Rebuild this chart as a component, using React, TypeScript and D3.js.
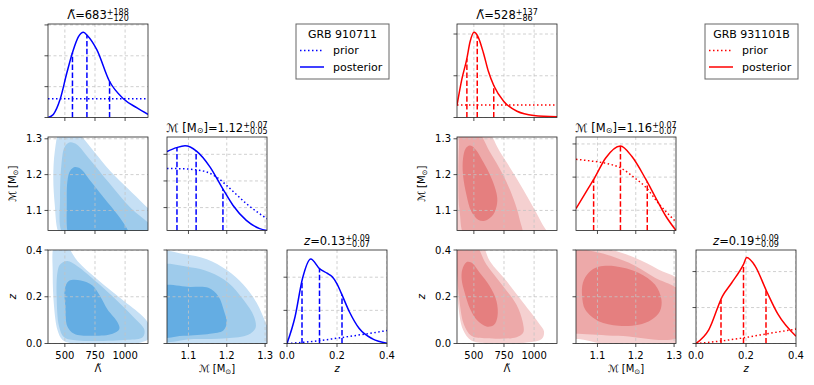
import React from 'react';
import * as d3 from 'd3';

type P = [number, number];

// axis limits and ticks shared by both corner plots
const lamLim: P = [360, 1190];
const mcLim: P = [1.044, 1.305];
const zLim: P = [0, 0.4];
const lamTicks = [500, 750, 1000];
const mcTicks = [1.1, 1.2, 1.3];
const zTicks = [0, 0.2, 0.4];

// ---------- GRB 910711 (blue) ----------
const lamPostA: P[] = [[360, 0], [404, 0.1], [460, 0.58], [516, 1.44], [566, 2.14], [613, 2.62], [654, 2.76], [688, 2.65], [766, 2.19], [868, 1.19], [988, 0.6], [1099, 0.31], [1190, 0.1]];
const lamPriorA: P[] = [[360, 0.61], [1190, 0.61]];
const mcPostA: P[] = [[1.044, 3.1], [1.069, 3.25], [1.091, 3.32], [1.121, 3.12], [1.156, 2.53], [1.189, 1.72], [1.216, 1.09], [1.251, 0.52], [1.286, 0.21], [1.305, 0.14]];
const mcPriorA: P[] = [[1.044, 2.47], [1.08, 2.46], [1.112, 2.43], [1.147, 2.34], [1.173, 2.15], [1.208, 1.72], [1.251, 1.15], [1.305, 0.58]];
const zPostA: P[] = [[0, 0], [0.032, 0.8], [0.062, 1.96], [0.095, 2.55], [0.131, 2.25], [0.16, 2.12], [0.18, 2.02], [0.2, 1.8], [0.217, 1.52], [0.25, 0.95], [0.289, 0.45], [0.342, 0.14], [0.4, 0.01]];
const zPriorA: P[] = [[0, 0], [0.1, 0.06], [0.2, 0.16], [0.3, 0.27], [0.4, 0.39]];
const lamQA = [563, 683, 871];
const mcQA = [1.07, 1.12, 1.19];
const zQA = [0.06, 0.13, 0.22];

const lamMcA: P[][] = [
  [[443, 1.042], [416, 1.116], [404, 1.19], [416, 1.264], [452, 1.319], [521, 1.338], [604, 1.319], [743, 1.264], [882, 1.208], [1021, 1.162], [1160, 1.116], [1271, 1.079], [1327, 1.023], [882, 1.0], [493, 1.015]],
  [[471, 1.042], [460, 1.134], [471, 1.227], [499, 1.278], [543, 1.29], [599, 1.284], [688, 1.25], [882, 1.171], [1049, 1.106], [1193, 1.065], [1271, 1.032], [882, 1.005], [549, 1.015]],
  [[521, 1.042], [516, 1.116], [521, 1.181], [543, 1.21], [582, 1.221], [632, 1.216], [716, 1.181], [827, 1.134], [938, 1.088], [1021, 1.046], [1049, 1.023], [743, 1.005], [549, 1.015]],
];
const lamZA: P[][] = [
  [[410, 0.417], [399, 0.303], [410, 0.159], [438, 0.059], [479, 0.016], [549, 0.0014], [882, -0.0014], [1132, 0.004], [1202, 0.023], [1216, 0.059], [1160, 0.109], [993, 0.181], [771, 0.274], [604, 0.353], [521, 0.417], [466, 0.439]],
  [[438, 0.303], [460, 0.338], [521, 0.353], [604, 0.331], [771, 0.26], [938, 0.181], [1077, 0.109], [1160, 0.059], [1146, 0.027], [1021, 0.016], [604, 0.013], [493, 0.027], [452, 0.073], [432, 0.202]],
  [[499, 0.231], [535, 0.268], [632, 0.27], [729, 0.248], [793, 0.202], [854, 0.145], [938, 0.09], [952, 0.062], [896, 0.042], [743, 0.033], [577, 0.042], [521, 0.073], [504, 0.159]],
];
const mcZA: P[][] = [
  [[1.018, 0.389], [1.087, 0.383], [1.148, 0.36], [1.2, 0.314], [1.243, 0.252], [1.278, 0.174], [1.302, 0.087], [1.321, 0.016], [1.286, -0.013], [1.156, -0.007], [1.018, -0.007]],
  [[1.018, 0.328], [1.104, 0.326], [1.156, 0.305], [1.204, 0.26], [1.243, 0.188], [1.271, 0.116], [1.275, 0.066], [1.256, 0.037], [1.2, 0.022], [1.113, 0.019], [1.018, 0.019]],
  [[1.018, 0.238], [1.104, 0.242], [1.152, 0.238], [1.178, 0.202], [1.193, 0.138], [1.2, 0.09], [1.191, 0.056], [1.156, 0.042], [1.087, 0.033], [1.018, 0.033]],
];

// ---------- GRB 931101B (red) ----------
const lamPostB: P[] = [[360, 0.29], [399, 0.9], [441, 1.4], [469, 1.82], [502, 2.04], [532, 1.95], [580, 1.54], [621, 1.1], [666, 0.76], [747, 0.39], [858, 0.15], [997, 0.05], [1190, 0.02]];
const lamPriorB: P[] = [[360, 0.3], [1190, 0.3]];
const mcPostB: P[] = [[1.044, 1.05], [1.07, 1.55], [1.094, 2.01], [1.121, 2.57], [1.16, 2.94], [1.19, 2.62], [1.225, 1.96], [1.251, 1.4], [1.277, 0.85], [1.305, 0.39]];
const mcPriorB: P[] = [[1.044, 2.54], [1.08, 2.49], [1.121, 2.42], [1.16, 2.28], [1.199, 1.96], [1.225, 1.71], [1.26, 1.2], [1.305, 0.65]];
const zPostB: P[] = [[0, 0], [0.051, 0.38], [0.106, 1.32], [0.143, 1.69], [0.19, 2.2], [0.203, 2.39], [0.236, 2.16], [0.282, 1.46], [0.329, 0.8], [0.4, 0.2]];
const zPriorB: P[] = [[0, 0], [0.1, 0.07], [0.2, 0.17], [0.3, 0.29], [0.4, 0.4]];
const lamQB = [442, 528, 665];
const mcQB = [1.09, 1.16, 1.23];
const zQB = [0.1, 0.19, 0.28];

const lamMcB: P[][] = [
  [[270, 1.338], [591, 1.329], [716, 1.264], [854, 1.19], [966, 1.125], [1063, 1.065], [1118, 1.023], [700, 1.0], [271, 1.023]],
  [[388, 1.329], [521, 1.324], [632, 1.264], [743, 1.199], [827, 1.134], [877, 1.079], [896, 1.023], [438, 1.023], [382, 1.097], [371, 1.2], [377, 1.28]],
  [[410, 1.245], [432, 1.273], [466, 1.281], [507, 1.273], [577, 1.236], [646, 1.19], [688, 1.148], [693, 1.12], [660, 1.088], [591, 1.071], [535, 1.074], [479, 1.097], [438, 1.144], [410, 1.199]],
];
const lamZB: P[][] = [
  [[354, 0.449], [549, 0.44], [632, 0.353], [771, 0.267], [910, 0.174], [1035, 0.09], [1082, 0.052], [1063, 0.019], [938, 0.004], [604, 0.0014], [479, 0.013], [410, 0.059], [368, 0.174], [349, 0.331]],
  [[341, 0.449], [493, 0.44], [604, 0.338], [743, 0.245], [854, 0.166], [904, 0.095], [910, 0.047], [854, 0.027], [604, 0.022], [479, 0.033], [418, 0.08], [382, 0.174], [360, 0.303]],
  [[404, 0.317], [438, 0.348], [479, 0.346], [549, 0.303], [632, 0.245], [688, 0.181], [696, 0.116], [666, 0.079], [604, 0.073], [527, 0.099], [471, 0.145], [424, 0.217], [399, 0.274]],
];
const mcZB: P[][] = [
  [[1.016, 0.432], [1.129, 0.403], [1.198, 0.367], [1.259, 0.317], [1.319, 0.26], [1.328, -0.013], [1.155, -0.013], [1.051, 0.019], [1.016, 0.023]],
  [[1.016, 0.403], [1.094, 0.392], [1.181, 0.346], [1.25, 0.281], [1.319, 0.217], [1.319, 0.033], [1.155, 0.033], [1.051, 0.042], [1.016, 0.042]],
  [[1.06, 0.202], [1.062, 0.26], [1.077, 0.303], [1.103, 0.328], [1.146, 0.331], [1.207, 0.303], [1.25, 0.252], [1.267, 0.188], [1.263, 0.138], [1.241, 0.102], [1.207, 0.08], [1.155, 0.076], [1.103, 0.095], [1.068, 0.145]],
];

const blueFills = ['#c6e0f5', '#9ecbeb', '#64ade3'];
const redFills = ['#f5d0d0', '#eda9a9', '#e57f7f'];

const events = [
  {
    name: 'GRB 910711', color: '#0000ff', fills: blueFills, dx: 0,
    diag: [
      { post: lamPostA, prior: lamPriorA, q: lamQA, yLim: [0, 3.03], yTicks: [0, 1, 2, 3], val: ['683', '+188', '−120'] },
      { post: mcPostA, prior: mcPriorA, q: mcQA, yLim: [0.14, 3.65], yTicks: [1, 2, 3], val: ['1.12', '+0.07', '−0.05'] },
      { post: zPostA, prior: zPriorA, q: zQA, yLim: [0, 2.82], yTicks: [0, 1, 2], val: ['0.13', '+0.09', '−0.07'] },
    ],
    lamMc: lamMcA, lamZ: lamZA, mcZ: mcZA,
  },
  {
    name: 'GRB 931101B', color: '#ff0000', fills: redFills, dx: 409,
    diag: [
      { post: lamPostB, prior: lamPriorB, q: lamQB, yLim: [0, 2.24], yTicks: [0, 1, 2], val: ['528', '+137', '−86'] },
      { post: mcPostB, prior: mcPriorB, q: mcQB, yLim: [0.39, 3.21], yTicks: [1, 2, 3], val: ['1.16', '+0.07', '−0.07'] },
      { post: zPostB, prior: zPriorB, q: zQB, yLim: [0, 2.6], yTicks: [0, 1, 2], val: ['0.19', '+0.09', '−0.09'] },
    ],
    lamMc: lamMcB, lamZ: lamZB, mcZ: mcZB,
  },
];

const COLS = [48, 167, 287];
const ROWS = [24, 137, 250];
const W = 100;
const H = 93.5;
const FONT = 'DejaVu Sans, sans-serif';
const TITLE_SIZE = 11.5;
const SCRIPT_SIZE = 8;
const TICK_SIZE = 10;

const ctx = typeof document !== 'undefined' ? document.createElement('canvas').getContext('2d') : null;
function textWidth(s: string, size: number, italic = false) {
  if (!ctx) return s.length * size * 0.6;
  ctx.font = `${italic ? 'italic ' : ''}${size}px "DejaVu Sans"`;
  return ctx.measureText(s).width;
}

type Seg = { t: string; size?: number; rise?: number; italic?: boolean; back?: boolean };

// text made of runs, with super/subscripts stacked at the same x
function Rich({ x, y, segs, size = TITLE_SIZE }: { x: number; y: number; segs: Seg[]; size?: number }) {
  const widths = segs.map(s => textWidth(s.t, s.size ?? size, s.italic));
  let total = 0;
  segs.forEach((s, i) => {
    if (s.back) total += Math.max(0, widths[i] - widths[i - 1]);
    else total += widths[i];
  });
  let prevRise = 0;
  return (
    <text x={x - total / 2} y={y} fontSize={size} fontFamily={FONT}>
      {segs.map((s, i) => {
        const rise = s.rise ?? 0;
        const dy = -(rise - prevRise);
        prevRise = rise;
        return (
          <tspan key={i} dy={dy} dx={s.back ? -widths[i - 1] : 0} fontSize={s.size ?? size}
            fontStyle={s.italic ? 'italic' : 'normal'}>{s.t}</tspan>
        );
      })}
    </text>
  );
}

const mcSegs = (size: number): Seg[] => [
  { t: 'ℳ [M' }, { t: '⊙', size: size * 0.7, rise: -1.8 }, { t: ']' },
];

function lerp(pts: P[], x: number) {
  return d3.scaleLinear().domain(pts.map(p => p[0])).range(pts.map(p => p[1])).clamp(true)(x);
}

function Frame({ id, x0, y0, xs, ys, xTicks, yTicks, xFmt, yFmt, fills, children }: any) {
  return (
    <g>
      <defs>
        <clipPath id={id}><rect x={x0} y={y0} width={W} height={H} /></clipPath>
      </defs>
      <g clipPath={`url(#${id})`}>
        {fills}
        {xTicks.map((t: number) => (
          <line key={'gx' + t} x1={xs(t)} x2={xs(t)} y1={y0} y2={y0 + H} stroke="#c4c4c4" strokeWidth={0.8} strokeDasharray="3,2.5" />
        ))}
        {yTicks.map((t: number) => (
          <line key={'gy' + t} y1={ys(t)} y2={ys(t)} x1={x0} x2={x0 + W} stroke="#c4c4c4" strokeWidth={0.8} strokeDasharray="3,2.5" />
        ))}
        {children}
      </g>
      <rect x={x0} y={y0} width={W} height={H} fill="none" stroke="#222" strokeWidth={0.8} />
      {xTicks.map((t: number) => (
        <g key={'tx' + t}>
          <line x1={xs(t)} x2={xs(t)} y1={y0 + H} y2={y0 + H + 3.5} stroke="#222" strokeWidth={0.8} />
          {xFmt && <text x={xs(t)} y={y0 + H + 15} textAnchor="middle" fontSize={TICK_SIZE} fontFamily={FONT}>{xFmt(t)}</text>}
        </g>
      ))}
      {yTicks.map((t: number) => (
        <g key={'ty' + t}>
          <line x1={x0 - 3.5} x2={x0} y1={ys(t)} y2={ys(t)} stroke="#222" strokeWidth={0.8} />
          {yFmt && <text x={x0 - 6} y={ys(t)} dy="0.35em" textAnchor="end" fontSize={TICK_SIZE} fontFamily={FONT}>{yFmt(t)}</text>}
        </g>
      ))}
    </g>
  );
}

function Corner({ ev }: { ev: any }) {
  const X = COLS.map(c => c + ev.dx);
  const xScales = [
    d3.scaleLinear().domain(lamLim).range([X[0], X[0] + W]),
    d3.scaleLinear().domain(mcLim).range([X[1], X[1] + W]),
    d3.scaleLinear().domain(zLim).range([X[2], X[2] + W]),
  ];
  const yMc = d3.scaleLinear().domain(mcLim).range([ROWS[1] + H, ROWS[1]]);
  const yZ = d3.scaleLinear().domain(zLim).range([ROWS[2] + H, ROWS[2]]);
  const axTicks = [lamTicks, mcTicks, zTicks];
  const fmts = [d3.format('d'), d3.format('.1f'), d3.format('.1f')];
  const key = ev.dx;

  const area = (xs: any, ys: any) =>
    d3.line<P>().x(d => xs(d[0])).y(d => ys(d[1])).curve(d3.curveCatmullRomClosed.alpha(0.5));
  const fillsOf = (levels: P[][], xs: any, ys: any) =>
    levels.map((lv, i) => <path key={i} d={area(xs, ys)(lv) || ''} fill={ev.fills[i]} />);

  const titleSegs = (i: number, v: string[]): Seg[] => {
    const head: Seg[] = i === 0 ? [{ t: 'Λ̃' }] : i === 1 ? mcSegs(TITLE_SIZE) : [{ t: 'z', italic: true }];
    return [...head, { t: '=' + v[0] }, { t: v[1], size: SCRIPT_SIZE, rise: 4 }, { t: v[2], size: SCRIPT_SIZE, rise: -2.4, back: true }];
  };

  return (
    <g>
      {ev.diag.map((d: any, i: number) => {
        const xs = xScales[i];
        const ys = d3.scaleLinear().domain(d.yLim).range([ROWS[i] + H, ROWS[i]]);
        const line = d3.line<P>().x(p => xs(p[0])).y(p => ys(p[1])).curve(d3.curveMonotoneX);
        return (
          <g key={'d' + i}>
            <Frame id={`c${key}d${i}`} x0={X[i]} y0={ROWS[i]} xs={xs} ys={ys} xTicks={axTicks[i]} yTicks={d.yTicks}
              xFmt={i === 2 ? fmts[i] : null} yFmt={null}>
              <path d={line(d.prior) || ''} fill="none" stroke={ev.color} strokeWidth={1.5} strokeDasharray="1.5,2.5" />
              <path d={line(d.post) || ''} fill="none" stroke={ev.color} strokeWidth={1.5} />
              {d.q.map((q: number, j: number) => (
                <line key={j} x1={xs(q)} x2={xs(q)} y1={ys(d.yLim[0])} y2={ys(lerp(d.post, q))} stroke={ev.color} strokeWidth={1.5} strokeDasharray="5.5,2.4" />
              ))}
            </Frame>
            <Rich x={X[i] + W / 2} y={ROWS[i] - 5.5} segs={titleSegs(i, d.val)} />
          </g>
        );
      })}

      <Frame id={`c${key}lm`} x0={X[0]} y0={ROWS[1]} xs={xScales[0]} ys={yMc} xTicks={lamTicks} yTicks={mcTicks}
        xFmt={null} yFmt={fmts[1]} fills={fillsOf(ev.lamMc, xScales[0], yMc)} />
      <Frame id={`c${key}lz`} x0={X[0]} y0={ROWS[2]} xs={xScales[0]} ys={yZ} xTicks={lamTicks} yTicks={zTicks}
        xFmt={fmts[0]} yFmt={fmts[2]} fills={fillsOf(ev.lamZ, xScales[0], yZ)} />
      <Frame id={`c${key}mz`} x0={X[1]} y0={ROWS[2]} xs={xScales[1]} ys={yZ} xTicks={mcTicks} yTicks={zTicks}
        xFmt={fmts[1]} yFmt={null} fills={fillsOf(ev.mcZ, xScales[1], yZ)} />

      {/* axis labels */}
      <Rich x={X[0] + W / 2} y={372} size={TICK_SIZE} segs={[{ t: 'Λ̃' }]} />
      <Rich x={X[1] + W / 2} y={372} size={TICK_SIZE} segs={mcSegs(TICK_SIZE)} />
      <Rich x={X[2] + W / 2} y={372} size={TICK_SIZE} segs={[{ t: 'z', italic: true }]} />
      <g transform={`translate(${X[0] - 32},${ROWS[1] + H / 2}) rotate(-90)`}>
        <Rich x={0} y={0} size={TICK_SIZE} segs={mcSegs(TICK_SIZE)} />
      </g>
      <g transform={`translate(${X[0] - 32},${ROWS[2] + H / 2}) rotate(-90)`}>
        <Rich x={0} y={0} size={TICK_SIZE} segs={[{ t: 'z', italic: true }]} />
      </g>

      {/* legend */}
      <g fontFamily={FONT} fontSize={11}>
        <rect x={296 + ev.dx} y={24} width={93} height={55} fill="#fff" stroke="#666" strokeWidth={1} />
        <text x={342.5 + ev.dx} y={37.5} textAnchor="middle">{ev.name}</text>
        <line x1={300 + ev.dx} x2={324 + ev.dx} y1={50.5} y2={50.5} stroke={ev.color} strokeWidth={1.5} strokeDasharray="1.5,2.5" />
        <text x={333 + ev.dx} y={54}>prior</text>
        <line x1={300 + ev.dx} x2={324 + ev.dx} y1={67} y2={67} stroke={ev.color} strokeWidth={1.5} />
        <text x={333 + ev.dx} y={70.5}>posterior</text>
      </g>
    </g>
  );
}

export default function App() {
  return (
    <svg width={814} height={385} style={{ position: 'absolute', left: 0, top: 0 }}>
      <rect width={814} height={385} fill="#fff" />
      {events.map(ev => <Corner key={ev.name} ev={ev} />)}
    </svg>
  );
}
